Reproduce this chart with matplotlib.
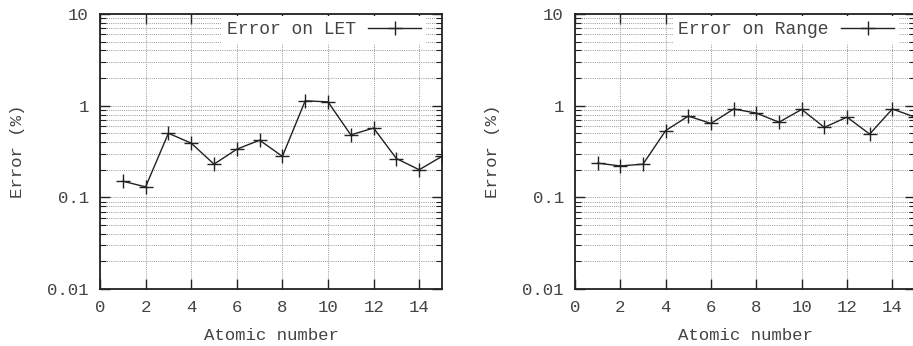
import matplotlib
matplotlib.use('Agg')
import matplotlib.pyplot as plt
from matplotlib.ticker import FixedLocator, LogLocator, NullFormatter, FuncFormatter
import numpy as np

plt.rcParams['font.family'] = ['Liberation Mono', 'DejaVu Sans Mono']
plt.rcParams['font.size'] = 12.5

# atomic number 1..15
z = [1, 2, 3, 4, 5, 6, 7, 8, 9, 10, 11, 12, 13, 14, 15]
err_let = [0.15, 0.13, 0.50, 0.39, 0.23, 0.335, 0.42, 0.28, 1.13, 1.10, 0.48, 0.57, 0.265, 0.20, 0.28]
err_range = [0.236, 0.22, 0.23, 0.535, 0.77, 0.64, 0.92, 0.83, 0.66, 0.91, 0.58, 0.75, 0.49, 0.92, 0.75]
x_ticks = [0, 2, 4, 6, 8, 10, 12, 14]
y_ticks = [0.01, 0.1, 1, 10]

W, H = 913, 346
fig = plt.figure(figsize=(W / 100, H / 100), dpi=100)


def make_panel(rect, y, label):
    ax = fig.add_axes(rect)
    ax.set_yscale('log')
    ax.set_xlim(0, 15)
    ax.set_ylim(0.01, 10)
    ax.xaxis.set_major_locator(FixedLocator(x_ticks))
    ax.yaxis.set_major_locator(FixedLocator(y_ticks))
    ax.yaxis.set_major_formatter(FuncFormatter(lambda v, p: '%g' % v))
    ax.yaxis.set_minor_locator(LogLocator(base=10, subs=np.arange(2, 10)))
    ax.yaxis.set_minor_formatter(NullFormatter())
    ax.tick_params(which='both', direction='in', top=True, right=True,
                   colors='#222', labelcolor='#444')
    ax.tick_params(which='major', length=7, width=1, pad=8)
    ax.tick_params(which='minor', length=4, width=0.8)
    ax.grid(which='both', axis='y', color='#999', linestyle=(0, (1, 1.2)), linewidth=0.7)
    ax.grid(which='major', axis='x', color='#999', linestyle=(0, (1, 1.2)), linewidth=0.7)
    for s in ax.spines.values():
        s.set_linewidth(1.3)
        s.set_color('#222')
    ax.plot(z, y, color='#222', linewidth=1, marker='+', markersize=10,
            markeredgewidth=1, label=label, clip_on=True)
    leg = ax.legend(loc='upper right', bbox_to_anchor=(1 - 14 / 342, 1),
                    markerfirst=False, numpoints=1,
                    fontsize=13, handlelength=2.9, frameon=True, fancybox=False,
                    borderpad=0.3, borderaxespad=0.1, handletextpad=0.7)
    leg.get_frame().set_edgecolor('none')
    leg.get_frame().set_facecolor('white')
    leg.get_frame().set_alpha(1)
    for t in leg.get_texts():
        t.set_color('#444')
    ax.set_xlabel('Atomic number', color='#444', labelpad=9)
    ax.set_ylabel('Error (%)', color='#444', labelpad=16)
    return ax


make_panel([100 / W, 57 / H, 342 / W, 275 / H], err_let, 'Error on LET')
make_panel([575 / W, 57 / H, 340 / W, 275 / H], err_range, 'Error on Range')

fig.savefig('out.png', dpi=100)
